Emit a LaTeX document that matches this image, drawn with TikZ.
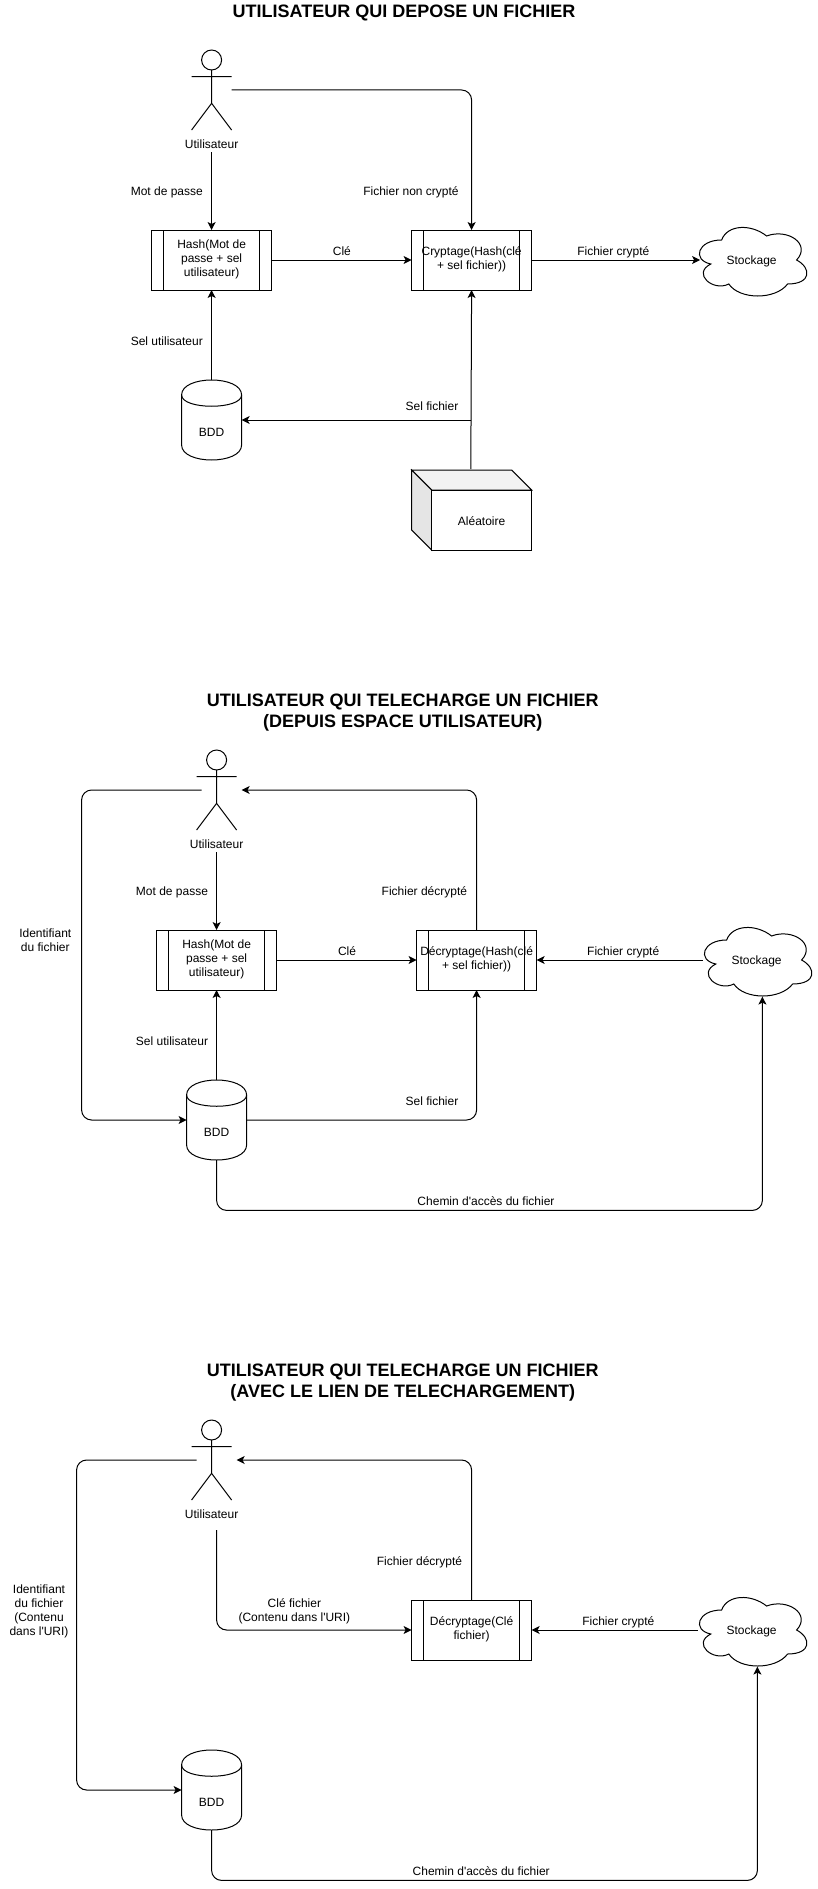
\documentclass[tikz,border=0pt]{standalone}
\usepackage{fontspec}
\setmainfont{Liberation Sans}
\usetikzlibrary{arrows.meta,calc}
\definecolor{ink}{HTML}{000000}
\definecolor{cubetop}{HTML}{F2F2F2}
\definecolor{cubeside}{HTML}{E5E5E5}
\begin{document}
\begin{tikzpicture}[
  x=1pt,y=-1pt,
  >={Stealth[length=8pt,width=8pt,inset=2pt]},draw=ink,text=ink,line width=1pt,
  lab/.style={font=\fontsize{12}{14}\selectfont,align=center,inner sep=0pt,
    execute at begin node={\rule[-3pt]{0pt}{14pt}},execute at end node={\rule[-3pt]{0pt}{14pt}}},
  flow/.style={lab,yshift=-1pt},
  heading/.style={font=\fontsize{18}{21}\selectfont\bfseries,align=center,inner sep=0pt},
  proc/.style={lab,draw,fill=white,outer sep=0pt,minimum width=120pt,minimum height=60pt,
    path picture={
      \draw ([xshift=12pt]path picture bounding box.north west) -- ([xshift=12pt]path picture bounding box.south west);
      \draw ([xshift=-12pt]path picture bounding box.north east) -- ([xshift=-12pt]path picture bounding box.south east);
    }},
  personpic/.pic={
    \draw (0,-30) circle [radius=10pt];
    \draw (0,-20) -- (0,13.3) (-20,-13.3) -- (20,-13.3) (-20,40) -- (0,13.3) -- (20,40);
    \node[lab,minimum height=14pt] (-lab) at (0,54.7) {Utilisateur};
  },
  dbpic/.pic={
    \node[inner sep=0pt,outer sep=0pt,minimum width=60pt,minimum height=80pt] (-box) at (0,0) {};
    \draw[fill=white] (-30,-25) .. controls (-30,-45) and (30,-45) .. (30,-25) -- (30,25)
      .. controls (30,45) and (-30,45) .. (-30,25) -- cycle;
    \draw (-30,-25) .. controls (-30,-10) and (30,-10) .. (30,-25);
    \node[lab] (-lab) at (0,12.5) {BDD};
  },
  cloudpic/.pic={
    \draw[fill=white,shift={(-60,-40)}] (30,20) .. controls (6,20) and (0,40) .. (19.2,44)
      .. controls (0,53.6) and (21.6,72) .. (37.2,64)
      .. controls (48,80) and (84,80) .. (96,64)
      .. controls (120,64) and (120,48) .. (105,40)
      .. controls (120,24) and (96,8) .. (75,16)
      .. controls (60,4) and (36,4) .. (30,20) -- cycle;
    \node[lab,minimum width=107pt,minimum height=70pt] (-box) at (0,0) {Stockage};
    \coordinate (-foot) at (5.8,36.6);
  },
  cubepic/.pic={
    \draw[fill=cubetop] (-70,-50) -- (30,-50) -- (50,-30) -- (-50,-30) -- cycle;
    \draw[fill=cubeside] (-70,-50) -- (-50,-30) -- (-50,30) -- (-70,10) -- cycle;
    \draw[fill=white] (-50,-30) rectangle (50,30);
    \node[lab] (-lab) at (0,1) {Al\'eatoire};
  }
]
\useasboundingbox (0,0) rectangle (817,1889);

\node[heading] (title1) at (404,13) {UTILISATEUR QUI DEPOSE UN FICHIER};
\pic (user1) at (211.6,90) {personpic};
\node[proc] (hash1) at (211.6,260) {Hash(Mot de\\passe + sel\\utilisateur)};
\node[proc] (crypt1) at (471.6,260) {Cryptage(Hash(cl\'e\\+ sel fichier))};
\pic (store1) at (751.6,260) {cloudpic};
\pic (db1) at (211.6,420) {dbpic};
\pic (alea1) at (481.6,520) {cubepic};
\coordinate (userout1) at (231.6,90);
\coordinate (aleaout1) at (470.8,469);
\coordinate (saltout1) at (471.3,420);
\draw[->] (user1-lab.south) -- (hash1.north);
\draw[->,rounded corners=10pt] (userout1) -| (crypt1.north);
\draw[->] (hash1.east) -- (crypt1.west);
\draw[->] (crypt1.east) -- ($(store1-box.west)+(2.5,0)$);
\draw[->] (db1-box.north) -- (hash1.south);
\draw[->] (aleaout1) -- (crypt1.south);
\draw[->] (saltout1) -- (db1-box.east);
\node[flow] (pw1) at (166.8,190.6) {Mot de passe};
\node[flow] (plain1) at (411,190.6) {Fichier non crypt\'e};
\node[flow] (key1) at (341.9,250.7) {Cl\'e};
\node[flow] (enc1) at (613.3,250.7) {Fichier crypt\'e};
\node[flow] (usalt1) at (166.8,340.6) {Sel utilisateur};
\node[flow] (fsalt1) at (432,405.7) {Sel fichier};

\node[heading] (title2) at (402.8,712.5) {UTILISATEUR QUI TELECHARGE UN FICHIER\\(DEPUIS ESPACE UTILISATEUR)};
\pic (user2) at (216.6,790) {personpic};
\node[proc] (hash2) at (216.6,960) {Hash(Mot de\\passe + sel\\utilisateur)};
\node[proc] (decrypt2) at (476.6,960) {D\'ecryptage(Hash(cl\'e\\+ sel fichier))};
\pic (store2) at (756.6,960) {cloudpic};
\pic (db2) at (216.6,1120) {dbpic};
\coordinate (userout2) at (201.6,790);
\coordinate (userin2) at (241.6,790);
\coordinate (idbend2) at (81.6,950);
\coordinate (pathbend2) at (486,1210.4);
\draw[->] (user2-lab.south) -- (hash2.north);
\draw[->,rounded corners=10pt] (userout2) -| (idbend2) |- (db2-box.west);
\draw[->,rounded corners=10pt] (decrypt2.north) |- (userin2);
\draw[->] (hash2.east) -- (decrypt2.west);
\draw[->] (store2-box.west) -- (decrypt2.east);
\draw[->] (db2-box.north) -- (hash2.south);
\draw[->,rounded corners=10pt] (db2-box.east) -| (decrypt2.south);
\draw[->,rounded corners=10pt] (db2-box.south) |- (pathbend2) -| (store2-foot);
\node[flow] (pw2) at (172,890.7) {Mot de passe};
\node[flow] (plain2) at (424.4,890.7) {Fichier d\'ecrypt\'e};
\node[flow] (id2) at (45.3,941) {Identifiant\\du fichier};
\node[flow] (key2) at (347,950.7) {Cl\'e};
\node[flow] (enc2) at (623.2,950.7) {Fichier crypt\'e};
\node[flow] (usalt2) at (172,1040.7) {Sel utilisateur};
\node[flow] (fsalt2) at (432,1100.7) {Sel fichier};
\node[flow] (path2) at (486,1200.7) {Chemin d\textquotesingle acc\`es du fichier};

\node[heading] (title3) at (402.8,1382.5) {UTILISATEUR QUI TELECHARGE UN FICHIER\\(AVEC LE LIEN DE TELECHARGEMENT)};
\pic (user3) at (211.6,1460) {personpic};
\node[proc] (decrypt3) at (471.6,1630) {D\'ecryptage(Cl\'e\\fichier)};
\pic (store3) at (751.6,1630) {cloudpic};
\pic (db3) at (211.6,1790) {dbpic};
\coordinate (userout3) at (196.6,1460);
\coordinate (userin3) at (236.6,1460);
\coordinate (keyout3) at (216.6,1530);
\coordinate (idbend3) at (76.6,1620);
\coordinate (pathbend3) at (481,1880.4);
\draw[->,rounded corners=10pt] (userout3) -| (idbend3) |- (db3-box.west);
\draw[->,rounded corners=10pt] (decrypt3.north) |- (userin3);
\draw[->,rounded corners=10pt] (keyout3) |- (decrypt3.west);
\draw[->] (store3-box.west) -- (decrypt3.east);
\draw[->,rounded corners=10pt] (db3-box.south) |- (pathbend3) -| (store3-foot);
\node[flow] (plain3) at (419.5,1560.7) {Fichier d\'ecrypt\'e};
\node[flow] (id3) at (39,1610.8) {Identifiant\\du fichier\\(Contenu\\dans l\textquotesingle URI)};
\node[flow] (key3) at (294.4,1610.7) {Cl\'e fichier\\(Contenu dans l\textquotesingle URI)};
\node[flow] (enc3) at (618.3,1620.9) {Fichier crypt\'e};
\node[flow] (path3) at (481.2,1870.8) {Chemin d\textquotesingle acc\`es du fichier};
\end{tikzpicture}
\end{document}
